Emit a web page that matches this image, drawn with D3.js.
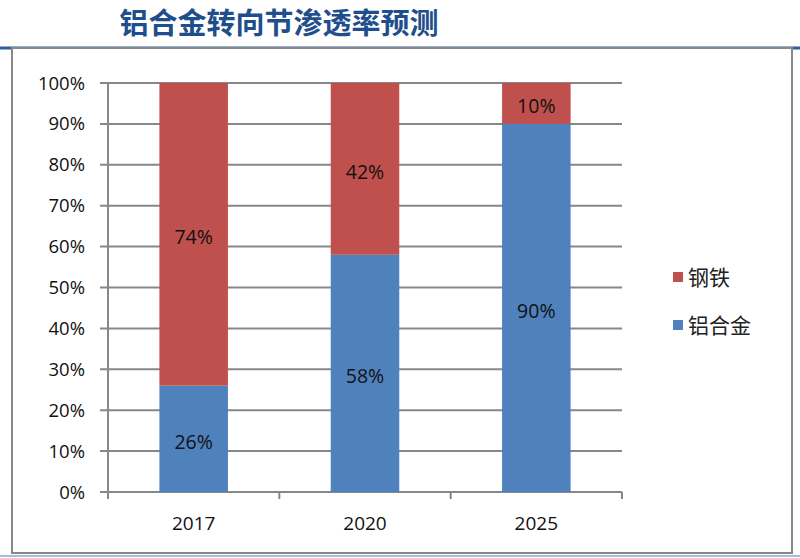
<!DOCTYPE html>
<html><head><meta charset="utf-8">
<script src="https://cdn.jsdelivr.net/npm/d3@7"></script>
<style>body{margin:0;background:#fff}</style>
</head><body>
<script>
const categories = ["2017","2020","2025"];
const seriesNames = ["铝合金","钢铁"];
const aluminum = [26, 58, 90];
const steel = [74, 42, 10];
const yTicks = [0,10,20,30,40,50,60,70,80,90,100];
const colors = {"铝合金":"#4F81BD","钢铁":"#C0504D"};

const W=800,H=558;
const svg=d3.select("body").append("svg").attr("width",W).attr("height",H);
const font="'Noto Sans CJK SC','Noto Sans',sans-serif";
const numFont="'Open Sans','Noto Sans',sans-serif";

// header lines
svg.append("line").attr("x1",0).attr("x2",W).attr("y1",48).attr("y2",48).attr("stroke","#2E5E9E").attr("stroke-width",3);
svg.append("line").attr("x1",0).attr("x2",W).attr("y1",556).attr("y2",556).attr("stroke","#A9BCD6").attr("stroke-width",2);
svg.append("rect").attr("x",12).attr("y",48).attr("width",780).attr("height",505).attr("fill","#fff").attr("stroke","#888").attr("stroke-width",2);

svg.append("text").attr("x",279).attr("y",34).attr("text-anchor","middle")
  .attr("font-family",font).attr("font-weight","bold").attr("font-size",29).attr("fill","#1F4E8C")
  .text("铝合金转向节渗透率预测");

const x=d3.scaleBand().domain(categories).range([108,622]).paddingInner(0.6).paddingOuter(0.3);
const y=d3.scaleLinear().domain([0,100]).range([492,83]);

const stackData=categories.map((c,i)=>({cat:c,"铝合金":aluminum[i],"钢铁":steel[i]}));
const stack=d3.stack().keys(seriesNames)(stackData);

// gridlines
svg.append("g").selectAll("line").data(yTicks).join("line")
  .attr("x1",100).attr("x2",622).attr("y1",d=>y(d)).attr("y2",d=>y(d))
  .attr("stroke","#878787").attr("stroke-width",2);

// y axis
svg.append("line").attr("x1",108).attr("x2",108).attr("y1",y(100)).attr("y2",498).attr("stroke","#878787").attr("stroke-width",2);
svg.append("g").selectAll("text").data(yTicks).join("text")
  .attr("x",85).attr("y",d=>y(d)+6.5).attr("text-anchor","end")
  .attr("font-family",numFont).attr("font-size",18.5).attr("fill","#111")
  .text(d=>d+"%");

// x ticks
const bounds=[108].concat(categories.map(c=>x(c)+x.bandwidth()/2+x.step()/2));
svg.append("g").selectAll("line").data(bounds).join("line")
  .attr("x1",d=>d).attr("x2",d=>d).attr("y1",492).attr("y2",499).attr("stroke","#878787").attr("stroke-width",2);
svg.append("g").selectAll("text").data(categories).join("text")
  .attr("x",d=>x(d)+x.bandwidth()/2).attr("y",530).attr("text-anchor","middle")
  .attr("font-family",numFont).attr("font-size",19).attr("fill","#111")
  .text(d=>d);

// bars
const g=svg.append("g");
stack.forEach(s=>{
  g.selectAll(null).data(s).join("rect")
    .attr("x",d=>x(d.data.cat)).attr("width",x.bandwidth())
    .attr("y",d=>y(d[1])).attr("height",d=>y(d[0])-y(d[1]))
    .attr("fill",colors[s.key]);
  g.selectAll(null).data(s).join("text")
    .attr("x",d=>x(d.data.cat)+x.bandwidth()/2).attr("y",d=>(y(d[0])+y(d[1]))/2+10)
    .attr("text-anchor","middle").attr("font-family",numFont)
    .attr("font-size",19.5).attr("fill","#111")
    .text(d=>(d[1]-d[0])+"%");
});

// legend
const legendItems=[{k:"钢铁",y:277},{k:"铝合金",y:325}];
legendItems.forEach(it=>{
  svg.append("rect").attr("x",673).attr("y",it.y-5).attr("width",10).attr("height",10).attr("fill",colors[it.k]);
  svg.append("text").attr("x",688).attr("y",it.y+8).attr("font-family",font).attr("font-size",21).attr("fill","#222").text(it.k);
});
</script>
</body></html>
